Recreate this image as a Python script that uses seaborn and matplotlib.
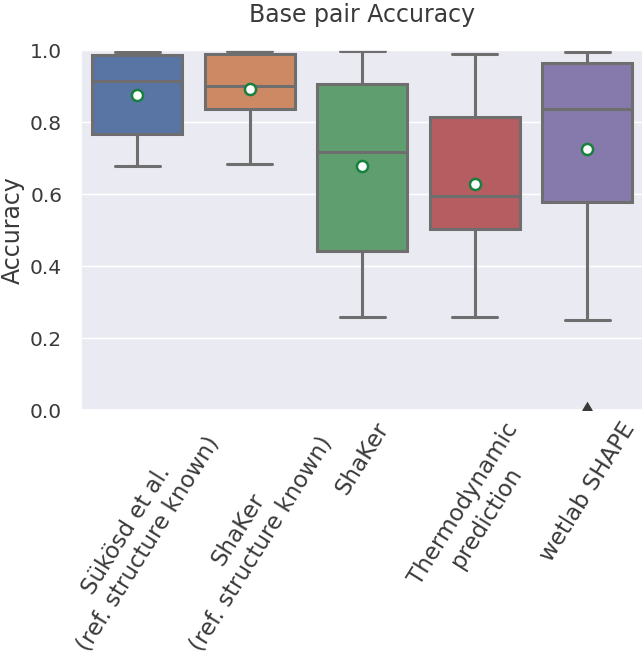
import numpy as np
import pandas as pd
import matplotlib
matplotlib.use('Agg')
import matplotlib.pyplot as plt
import seaborn as sns

methods = ['Sükösd et al.\n(ref. structure known)', 'ShaKer\n(ref. structure known)',
           'ShaKer', 'Thermodynamic\nprediction', 'wetlab SHAPE']
# box statistics
whisker_low = [0.678, 0.682, 0.257, 0.257, 0.250]
q1 = [0.767, 0.835, 0.443, 0.503, 0.579]
median = [0.914, 0.901, 0.717, 0.594, 0.835]
q3 = [0.986, 0.989, 0.906, 0.813, 0.963]
whisker_high = [0.994, 0.996, 0.997, 0.989, 0.994]
means = [0.875, 0.892, 0.677, 0.627, 0.725]
outlier_method = ['wetlab SHAPE']
outlier_value = [0.0]

# long table: five points per method reproduce the quartiles and whiskers
rows = []
for i, m in enumerate(methods):
    for v in (whisker_low[i], q1[i], median[i], q3[i], whisker_high[i]):
        rows.append({'method': m, 'Accuracy': v})
df = pd.DataFrame(rows)

sns.set_theme(style='darkgrid', palette='deep')
plt.rcParams['font.family'] = ['DejaVu Sans']

fig = plt.figure(figsize=(6.42, 6.58), dpi=100)
ax = fig.add_axes([81 / 642, 248 / 658, 562.5 / 642, 360 / 658])

sns.boxplot(data=df, x='method', y='Accuracy', hue='method', order=methods,
            hue_order=methods, palette='deep', linecolor='#6e6e6e',
            linewidth=2.2, width=0.8, showfliers=False, legend=False, ax=ax)
sns.stripplot(x=methods, y=means, order=methods, jitter=False, color='white',
              edgecolor='#17803d', linewidth=1.8, size=8, zorder=5, ax=ax)
sns.stripplot(x=outlier_method, y=outlier_value, order=methods, jitter=False,
              marker='d', color='#3a3a3a', size=9, zorder=5, ax=ax)

ax.set_xlim(-0.5, 4.5)
ax.set_ylim(0, 1)
ax.set_yticks([0.0, 0.2, 0.4, 0.6, 0.8, 1.0])
ax.set_xticks(range(len(methods)))
ax.set_xticklabels(methods, rotation=58, fontsize=16.5, color='#3a3a3a')
ax.tick_params(axis='y', labelsize=14.5, pad=7.5, labelcolor='#3a3a3a')
ax.tick_params(axis='x', pad=0)
ax.set_xlabel('')
ax.set_ylabel('Accuracy', fontsize=17, labelpad=4, color='#3a3a3a')
ax.set_title('Base pair Accuracy', fontsize=17, pad=20, color='#3a3a3a')

fig.savefig('out.png', dpi=100)
